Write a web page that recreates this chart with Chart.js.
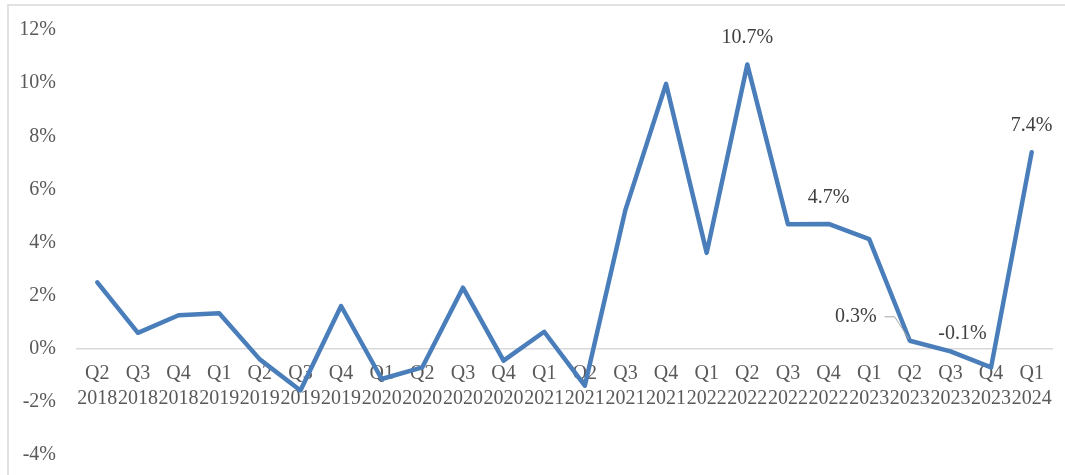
<!DOCTYPE html>
<html>
<head>
<meta charset="utf-8">
<script src="https://cdn.jsdelivr.net/npm/chart.js@4"></script>
<style>
  html, body { margin: 0; padding: 0; background: #fff; }
  #wrap { width: 1065px; height: 475px; }
</style>
</head>
<body>
<div id="wrap"><canvas id="growthChart"></canvas></div>
<script>
const QUARTERS = ['Q2','Q3','Q4','Q1','Q2','Q3','Q4','Q1','Q2','Q3','Q4','Q1',
                  'Q2','Q3','Q4','Q1','Q2','Q3','Q4','Q1','Q2','Q3','Q4','Q1'];
const YEARS = ['2018','2018','2018','2019','2019','2019','2019','2020','2020','2020','2020','2021',
               '2021','2021','2021','2022','2022','2022','2022','2023','2023','2023','2023','2024'];
const GROWTH = [2.5, 0.6, 1.26, 1.34, -0.4, -1.57, 1.61, -1.14, -0.7, 2.3, -0.45, 0.64,
                -1.39, 5.23, 9.97, 3.61, 10.7, 4.69, 4.7, 4.13, 0.3, -0.1, -0.7, 7.4];
const Y_TICKS = [-4, -2, 0, 2, 4, 6, 8, 10, 12];

// which points get a value label, and where it sits relative to the point
const LABELLED = {
  16: { dx: 0, dy: -27 },
  18: { dx: 0, dy: -26 },
  20: { dx: -54, dy: -24, leader: true },
  21: { dx: 12, dy: -18 },
  23: { dx: 0, dy: -26 }
};

const FONT = "'Liberation Serif', 'Times New Roman', serif";

const frame = {
  id: 'frame',
  beforeDraw(chart) {
    const ctx = chart.ctx;
    ctx.save();
    ctx.strokeStyle = '#d9d9d9';
    ctx.lineWidth = 1.5;
    ctx.strokeRect(8, 5, 1070, 480);
    ctx.restore();
  }
};

const valueLabels = {
  id: 'valueLabels',
  afterDatasetsDraw(chart) {
    const ctx = chart.ctx;
    const meta = chart.getDatasetMeta(0);
    ctx.save();
    ctx.font = '20px ' + FONT;
    ctx.fillStyle = '#404040';
    ctx.textAlign = 'center';
    ctx.textBaseline = 'middle';
    Object.entries(LABELLED).forEach(([i, pos]) => {
      const pt = meta.data[i];
      const text = GROWTH[i].toFixed(1) + '%';
      const lx = pt.x + pos.dx;
      const ly = pt.y + pos.dy;
      ctx.fillText(text, lx, ly);
      if (pos.leader) {
        const w = ctx.measureText(text).width;
        ctx.strokeStyle = '#a6a6a6';
        ctx.lineWidth = 1;
        ctx.beginPath();
        ctx.moveTo(lx + w / 2 + 8, ly);
        ctx.lineTo(lx + w / 2 + 18, ly);
        ctx.lineTo(pt.x - 1, pt.y - 2);
        ctx.stroke();
      }
    });
    ctx.restore();
  }
};

new Chart(document.getElementById('growthChart'), {
  type: 'line',
  data: {
    labels: QUARTERS.map((q, i) => [q, YEARS[i]]),
    datasets: [{
      data: GROWTH,
      borderColor: '#4a7ebb',
      borderWidth: 4.5,
      borderJoinStyle: 'round',
      borderCapStyle: 'round',
      pointRadius: 0,
      tension: 0,
      fill: false
    }]
  },
  options: {
    responsive: true,
    maintainAspectRatio: false,
    animation: false,
    layout: { padding: { left: 0, right: 13, top: 30, bottom: 20 } },
    plugins: {
      legend: { display: false },
      tooltip: { enabled: false }
    },
    scales: {
      x: {
        position: { y: 0 },
        offset: true,
        grid: { display: false, drawTicks: false },
        border: { display: true, color: '#d9d9d9', width: 1.5 },
        ticks: {
          autoSkip: false,
          maxRotation: 0,
          padding: 12,
          color: '#595959',
          font: { family: FONT, size: 20, lineHeight: 1.25 }
        }
      },
      y: {
        min: -4,
        max: 12,
        afterFit(scale) {
          scale.width = 77;
          scale.paddingTop = 0;
          scale.paddingBottom = 0;
        },
        afterBuildTicks(scale) { scale.ticks = Y_TICKS.map(v => ({ value: v })); },
        grid: { display: false, drawTicks: false },
        border: { display: false },
        ticks: {
          padding: 21,
          color: '#595959',
          font: { family: FONT, size: 20 },
          callback: v => v + '%'
        }
      }
    }
  },
  plugins: [frame, valueLabels]
});
</script>
</body>
</html>
